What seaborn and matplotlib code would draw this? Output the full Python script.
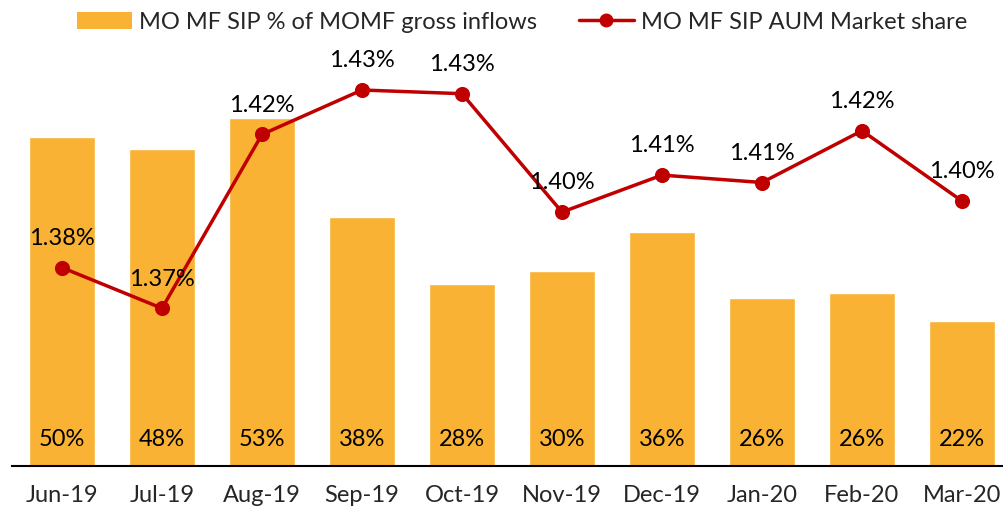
import matplotlib
matplotlib.use("Agg")
import matplotlib.pyplot as plt
import seaborn as sns
import pandas as pd
from matplotlib.patches import Patch
from matplotlib.lines import Line2D

# ---- data ----
months = ["Jun-19", "Jul-19", "Aug-19", "Sep-19", "Oct-19",
          "Nov-19", "Dec-19", "Jan-20", "Feb-20", "Mar-20"]
sip_pct_inflows = [50.0, 48.2, 52.9, 37.8, 27.7, 29.6, 35.6, 25.5, 26.3, 22.0]
aum_share = [1.384, 1.373, 1.420, 1.432, 1.431, 1.399, 1.409, 1.407, 1.421, 1.402]

BAR_LABEL = "MO MF SIP % of MOMF gross inflows"
LINE_LABEL = "MO MF SIP AUM Market share"
BAR_COLOR = "#F9B233"
LINE_COLOR = "#C00000"

df = pd.DataFrame({"month": months, "sip": sip_pct_inflows, "share": aum_share})

sns.set_theme(style="white")
plt.rcParams["font.family"] = ["Lato", "DejaVu Sans"]
FS = 17

fig = plt.figure(figsize=(10.04, 5.12), dpi=100)
ax = fig.add_axes([12 / 1004, 46 / 512, 1000 / 1004, 426 / 512])

sns.barplot(data=df, x="month", y="sip", color=BAR_COLOR, width=0.66,
            saturation=1, ax=ax)
ax.set_ylim(0, 426 / 6.58)
ax.set_xlim(-0.5, 9.5)

# bar value labels at the bottom of each bar
for i, v in enumerate(sip_pct_inflows):
    ax.text(i, 4, f"{v:.0f}%", ha="center", va="center", fontsize=FS,
            color="black")

ax2 = ax.twinx()
sns.pointplot(data=df, x="month", y="share", color=LINE_COLOR,
              markers="o", markersize=9, linewidth=2.5, ax=ax2)
bottom = 1.432 - 376 / 3700
ax2.set_ylim(bottom, bottom + 426 / 3700)
ax2.set_xlim(-0.5, 9.5)

for i, v in enumerate(aum_share):
    ax2.annotate(f"{v:.2f}%", (i, v), xytext=(0, 21), textcoords="offset points",
                 ha="center", va="center", fontsize=FS, color="black")

for a in (ax, ax2):
    a.set_xlabel("")
    a.set_ylabel("")
    a.set_yticks([])
    for s in ("top", "right", "left", "bottom"):
        a.spines[s].set_visible(False)
ax.spines["bottom"].set_visible(True)
ax.spines["bottom"].set_color("black")
ax.spines["bottom"].set_linewidth(1.5)

ax.tick_params(axis="x", length=0, pad=14, labelsize=FS)
ax2.tick_params(axis="x", length=0, labelbottom=False)

handles = [Patch(facecolor=BAR_COLOR, edgecolor="none"),
           Line2D([], [], color=LINE_COLOR, marker="o", markersize=9, linewidth=2.5)]
fig.legend(handles, [BAR_LABEL, LINE_LABEL], loc="center", ncol=2,
           bbox_to_anchor=(0.52, 0.957), frameon=False, fontsize=FS,
           handlelength=2.3, handletextpad=0.3, columnspacing=1.8)

fig.savefig("out.png", dpi=100)
